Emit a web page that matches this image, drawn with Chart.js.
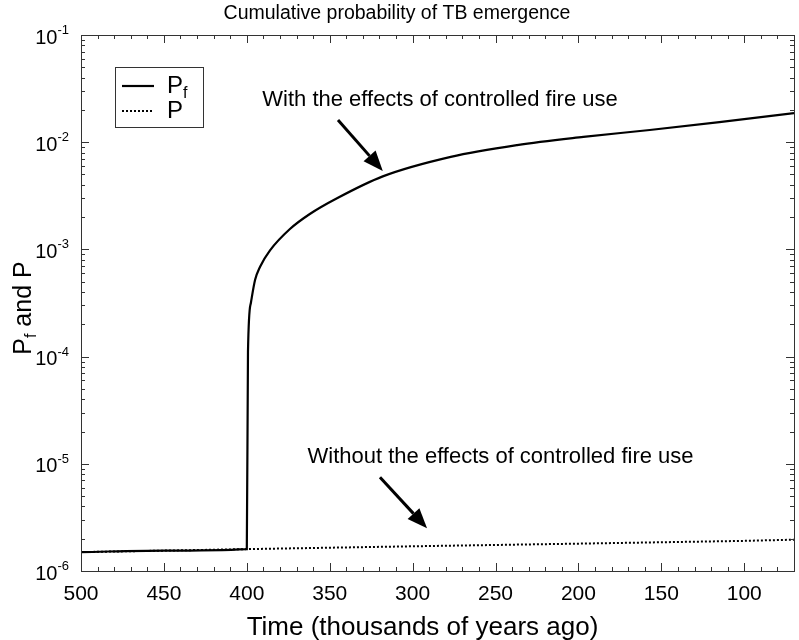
<!DOCTYPE html>
<html>
<head>
<meta charset="utf-8">
<style>
  html, body { margin: 0; padding: 0; background: #fff; }
  #wrap { width: 799px; height: 640px; }
</style>
<script src="https://cdn.jsdelivr.net/npm/chart.js@4.4.1/dist/chart.umd.min.js"></script>
</head>
<body>
<div id="wrap"><canvas id="chart" width="799" height="640"></canvas></div>
<script>
const FONT = "'Liberation Sans', Arial, Helvetica, sans-serif";

// tick labels
const xTicks = [500, 450, 400, 350, 300, 250, 200, 150, 100];
const yDecades = [-6, -5, -4, -3, -2, -1];
const xTitle = 'Time (thousands of years ago)';

// P_f : with the effects of controlled fire use
const pfX = [500, 450, 400, 399.3, 397.5, 395, 392, 386, 374, 362, 345.6, 318, 277, 237, 197, 157, 115, 70];
const pfY = [1.5e-6, 1.55e-6, 1.6e-6, 1.1e-4, 3.2e-4, 5.2e-4, 6.9e-4, 9.8e-4, 1.55e-3, 2.14e-3, 3.0e-3, 4.8e-3, 7.3e-3, 9.4e-3, 1.12e-2, 1.30e-2, 1.54e-2, 1.87e-2];

// P : without the effects of controlled fire use
const pX = [500, 400, 300, 200, 100, 70];
const pY = [1.5e-6, 1.6e-6, 1.7e-6, 1.8e-6, 1.91e-6, 1.96e-6];

// annotations (data units)
const noteText = ['With the effects of controlled fire use', 'Without the effects of controlled fire use'];
const noteAt = [[283.5, 2.48e-2], [247, 1.16e-5]];
const arrowFrom = [[345, 1.61e-2], [319.7, 7.5e-6]];
const arrowTo = [[318, 5.4e-3], [291.3, 2.5e-6]];

const pts = (xs, ys) => xs.map((x, i) => ({ x, y: ys[i] }));

function subText(ctx, parts, x, y, size) {
  // parts: [text, 'n'|'sub'|'sup']
  let cx = x;
  parts.forEach(([t, k]) => {
    const s = k === 'n' ? size : Math.round(size * 0.65);
    ctx.font = s + 'px ' + FONT;
    const dy = k === 'sub' ? size * 0.3 : k === 'sup' ? -size * 0.38 : 0;
    ctx.fillText(t, cx, y + dy);
    cx += ctx.measureText(t).width;
  });
  return cx - x;
}
function partsWidth(ctx, parts, size) {
  return parts.reduce((w, [t, k]) => {
    ctx.font = (k === 'n' ? size : Math.round(size * 0.65)) + 'px ' + FONT;
    return w + ctx.measureText(t).width;
  }, 0);
}

function arrow(ctx, x1, y1, x2, y2) {
  const a = Math.atan2(y2 - y1, x2 - x1), L = 20, W = 8;
  const bx = x2 - L * Math.cos(a), by = y2 - L * Math.sin(a);
  ctx.strokeStyle = '#000'; ctx.fillStyle = '#000'; ctx.lineWidth = 3;
  ctx.beginPath(); ctx.moveTo(x1, y1); ctx.lineTo(bx, by); ctx.stroke();
  ctx.beginPath();
  ctx.moveTo(x2, y2);
  ctx.lineTo(bx + W * Math.sin(a), by - W * Math.cos(a));
  ctx.lineTo(bx - W * Math.sin(a), by + W * Math.cos(a));
  ctx.closePath(); ctx.fill();
}

const frame = {
  id: 'frame',
  afterDatasetsDraw(chart) {
    const { ctx, chartArea: a, scales: { x, y } } = chart;
    ctx.save();
    // box
    ctx.strokeStyle = '#333'; ctx.lineWidth = 1;
    ctx.strokeRect(Math.round(a.left) + 0.5, Math.round(a.top) + 0.5, Math.round(a.right - a.left), Math.round(a.bottom - a.top));
    // inward ticks
    ctx.beginPath();
    x.ticks.forEach(t => {
      const px = Math.round(x.getPixelForValue(t.value)) + 0.5;
      const len = xTicks.includes(t.value) ? 8 : 4;
      ctx.moveTo(px, a.bottom); ctx.lineTo(px, a.bottom - len);
      ctx.moveTo(px, a.top); ctx.lineTo(px, a.top + len);
    });
    y.ticks.forEach(t => {
      const py = Math.round(y.getPixelForValue(t.value)) + 0.5;
      const lg = Math.log10(t.value);
      const len = Math.abs(lg - Math.round(lg)) < 1e-6 ? 8 : 4;
      ctx.moveTo(a.left, py); ctx.lineTo(a.left + len, py);
      ctx.moveTo(a.right, py); ctx.lineTo(a.right - len, py);
    });
    ctx.stroke();

    // y tick labels 10^n
    ctx.fillStyle = '#000'; ctx.textBaseline = 'middle'; ctx.textAlign = 'left';
    yDecades.forEach(d => {
      const py = y.getPixelForValue(Math.pow(10, d));
      const parts = [['10', 'n'], [String(d), 'sup']];
      const w = partsWidth(ctx, parts, 20);
      subText(ctx, parts, a.left - 12 - w, py + 3, 20);
    });

    // x axis title (sits a little left of centre in the original)
    ctx.font = '26px ' + FONT; ctx.textAlign = 'center';
    ctx.fillText(xTitle, (a.left + a.right) / 2 - 15, 628);
    ctx.textAlign = 'left';

    // y axis title
    ctx.save();
    ctx.translate(24, (a.top + a.bottom) / 2 + 5);
    ctx.rotate(-Math.PI / 2);
    const tp = [['P', 'n'], ['f', 'sub'], [' and P', 'n']];
    subText(ctx, tp, -partsWidth(ctx, tp, 25) / 2, 0, 25);
    ctx.restore();

    // legend
    const lx = 115, ly = 67, lw = 88, lh = 60;
    ctx.strokeStyle = '#333'; ctx.lineWidth = 1;
    ctx.strokeRect(lx + 0.5, ly + 0.5, lw, lh);
    chart.data.datasets.forEach((ds, i) => {
      const ry = ly + 19 + i * 25;
      ctx.strokeStyle = ds.borderColor; ctx.lineWidth = ds.borderWidth;
      ctx.setLineDash(ds.borderDash || []);
      ctx.beginPath(); ctx.moveTo(lx + 7, ry); ctx.lineTo(lx + 39, ry); ctx.stroke();
      ctx.setLineDash([]);
      ctx.fillStyle = '#000';
      subText(ctx, ds.labelParts, lx + 52, ry, 24);
    });

    // annotations
    ctx.textBaseline = 'middle';
    noteText.forEach((t, i) => {
      ctx.font = '22px ' + FONT; ctx.textAlign = 'center'; ctx.fillStyle = '#000';
      ctx.fillText(t, x.getPixelForValue(noteAt[i][0]), y.getPixelForValue(noteAt[i][1]));
      arrow(ctx,
        x.getPixelForValue(arrowFrom[i][0]), y.getPixelForValue(arrowFrom[i][1]),
        x.getPixelForValue(arrowTo[i][0]), y.getPixelForValue(arrowTo[i][1]));
    });
    ctx.restore();
  }
};

new Chart(document.getElementById('chart'), {
  type: 'line',
  data: {
    datasets: [
      { label: 'Pf', labelParts: [['P', 'n'], ['f', 'sub']], data: pts(pfX, pfY),
        borderColor: '#000', borderWidth: 2.2, pointRadius: 0, cubicInterpolationMode: 'monotone', fill: false },
      { label: 'P', labelParts: [['P', 'n']], data: pts(pX, pY),
        borderColor: '#000', borderWidth: 2, borderDash: [2, 2], pointRadius: 0, tension: 0, fill: false }
    ]
  },
  options: {
    responsive: false,
    animation: false,
    devicePixelRatio: 1,
    layout: { padding: { left: 0, right: 5, top: 0, bottom: 0 } },
    plugins: {
      legend: { display: false },
      tooltip: { enabled: false },
      title: {
        display: true, text: 'Cumulative probability of TB emergence', color: '#000',
        font: { family: FONT, size: 19.5, weight: 'normal' }, padding: { top: 2, bottom: 9.6 }
      }
    },
    scales: {
      x: {
        type: 'linear', reverse: true, min: 70, max: 500,
        afterBuildTicks: s => {
          const t = [];
          for (let v = 500; v >= 80; v -= 10) t.push({ value: v });
          s.ticks = t;
        },
        afterFit: s => { s.height = 69; },
        ticks: {
          autoSkip: false, maxRotation: 0, padding: 3, color: '#000',
          font: { family: FONT, size: 21 },
          callback: v => xTicks.includes(v) ? String(v) : ''
        },
        grid: { display: false },
        border: { display: false },
        title: { display: false }
      },
      y: {
        type: 'logarithmic', min: 1e-6, max: 1e-1,
        afterBuildTicks: s => {
          const t = [];
          yDecades.forEach(d => {
            for (let m = 1; m <= 9; m++) {
              const v = m * Math.pow(10, d);
              if (v <= 1e-1 * 1.0001) t.push({ value: v });
            }
          });
          s.ticks = t;
        },
        afterFit: s => { s.width = 81; },
        ticks: { display: false },
        grid: { display: false },
        border: { display: false }
      }
    }
  },
  plugins: [frame]
});
</script>
</body>
</html>
